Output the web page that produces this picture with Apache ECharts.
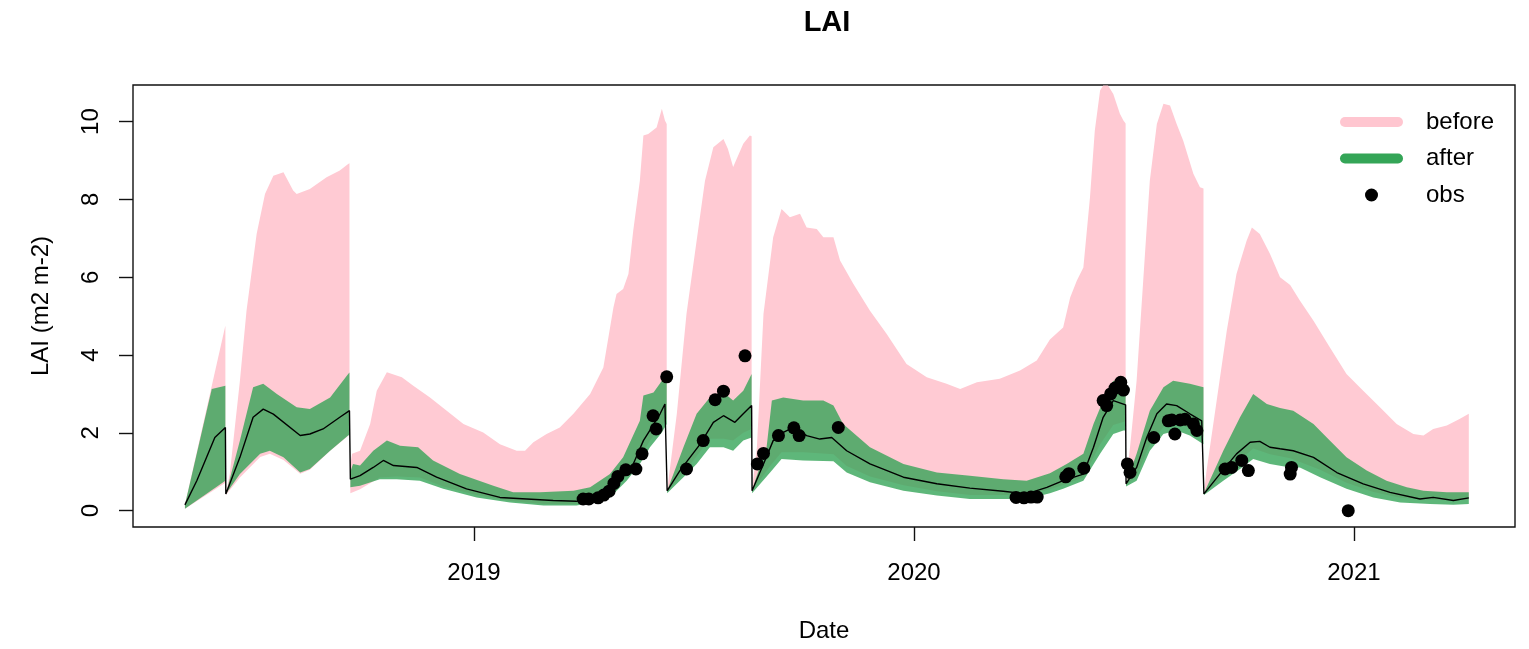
<!DOCTYPE html>
<html>
<head>
<meta charset="utf-8">
<script src="https://cdn.jsdelivr.net/npm/echarts@6/dist/echarts.min.js"></script>
<style>
html,body{margin:0;padding:0;background:#fff;}
#chart{width:1529px;height:649px;}
</style>
</head>
<body>
<div id="chart"></div>
<script>
// Dates are decimal years.
const yearTicks = [2019, 2020, 2021];
const laiTicks = [0, 2, 4, 6, 8, 10];
// start of each model run segment (last value closes the final segment)
const segBreaks = [2018.343, 2018.436, 2018.719, 2019.439, 2019.632, 2020.482, 2020.659, 2021.27];

const beforeUpper = [
[2018.343,0.15],[2018.435,4.76],
[2018.436,0.43],[2018.445,0.95],[2018.468,3.34],[2018.483,5.14],[2018.506,7.11],[2018.525,8.14],[2018.544,8.61],[2018.567,8.70],[2018.589,8.23],[2018.597,8.14],[2018.627,8.27],[2018.665,8.57],[2018.695,8.74],[2018.714,8.91],[2018.717,8.93],
[2018.719,1.2],[2018.723,1.46],[2018.741,1.54],[2018.764,2.23],[2018.779,3.08],[2018.802,3.56],[2018.836,3.43],[2018.862,3.21],[2018.900,2.91],[2018.938,2.57],[2018.976,2.23],[2019.021,2.01],[2019.059,1.71],[2019.097,1.54],[2019.116,1.54],[2019.135,1.76],[2019.165,1.97],[2019.195,2.14],[2019.226,2.49],[2019.264,3.00],[2019.294,3.68],[2019.317,5.23],[2019.324,5.57],[2019.339,5.70],[2019.351,6.08],[2019.362,7.20],[2019.377,8.48],[2019.385,9.64],[2019.396,9.68],[2019.415,9.85],[2019.427,10.33],[2019.434,10.03],[2019.438,9.94],
[2019.439,0.51],[2019.461,2.49],[2019.483,5.06],[2019.506,6.94],[2019.525,8.48],[2019.544,9.34],[2019.567,9.55],[2019.577,9.30],[2019.589,8.83],[2019.612,9.43],[2019.627,9.64],[2019.631,9.62],
[2019.632,0.55],[2019.643,1.63],[2019.658,5.06],[2019.680,7.03],[2019.699,7.75],[2019.718,7.54],[2019.741,7.63],[2019.756,7.28],[2019.779,7.24],[2019.794,7.03],[2019.817,7.03],[2019.832,6.43],[2019.862,5.83],[2019.900,5.14],[2019.938,4.54],[2019.983,3.77],[2020.029,3.43],[2020.074,3.26],[2020.105,3.13],[2020.143,3.30],[2020.195,3.39],[2020.241,3.60],[2020.279,3.86],[2020.309,4.40],[2020.339,4.71],[2020.355,5.48],[2020.370,5.91],[2020.385,6.25],[2020.400,8.05],[2020.411,9.77],[2020.423,10.80],[2020.430,10.93],[2020.441,10.93],[2020.453,10.71],[2020.468,10.20],[2020.476,10.03],[2020.481,9.95],
[2020.482,0.70],[2020.491,1.63],[2020.506,3.34],[2020.521,5.91],[2020.536,8.48],[2020.552,9.94],[2020.567,10.46],[2020.582,10.41],[2020.597,9.94],[2020.612,9.51],[2020.635,8.66],[2020.650,8.31],[2020.658,8.28],
[2020.659,0.45],[2020.665,1.03],[2020.688,2.83],[2020.711,4.63],[2020.733,6.08],[2020.756,6.94],[2020.768,7.28],[2020.786,7.11],[2020.809,6.60],[2020.832,6.00],[2020.855,5.80],[2020.877,5.40],[2020.908,4.88],[2020.945,4.20],[2020.983,3.51],[2021.021,3.08],[2021.059,2.66],[2021.097,2.23],[2021.135,1.97],[2021.158,1.93],[2021.180,2.10],[2021.211,2.19],[2021.241,2.36],[2021.261,2.49]
];

const beforeLower = [
[2018.343,0.05],[2018.435,0.72],
[2018.436,0.40],[2018.468,0.85],[2018.514,1.38],[2018.536,1.46],[2018.567,1.30],[2018.605,0.95],[2018.627,1.05],[2018.673,1.54],[2018.717,1.95],
[2018.719,0.45],[2018.741,0.55],[2018.786,0.85],[2018.824,0.88],[2018.877,0.85],[2018.930,0.62],[2019.006,0.40],[2019.082,0.25],[2019.158,0.17],[2019.233,0.17],[2019.264,0.25],[2019.309,0.45],[2019.347,0.90],[2019.377,1.35],[2019.400,1.80],[2019.438,2.35],
[2019.439,0.50],[2019.476,0.95],[2019.506,1.40],[2019.536,1.85],[2019.567,1.85],[2019.589,1.80],[2019.612,2.00],[2019.631,2.10],
[2019.632,0.50],[2019.673,1.15],[2019.699,1.50],[2019.748,1.50],[2019.817,1.45],[2019.847,1.15],[2019.900,0.88],[2019.976,0.65],[2020.052,0.50],[2020.127,0.40],[2020.256,0.40],[2020.309,0.55],[2020.339,0.66],[2020.385,0.85],[2020.423,1.70],[2020.453,2.20],[2020.481,2.30],
[2020.482,0.65],[2020.506,0.90],[2020.536,1.70],[2020.567,2.15],[2020.597,2.25],[2020.627,2.12],[2020.658,1.90],
[2020.659,0.42],[2020.703,0.90],[2020.741,1.30],[2020.771,1.60],[2020.809,1.45],[2020.855,1.35],[2020.923,1.05],[2020.983,0.72],[2021.044,0.48],[2021.105,0.33],[2021.173,0.28],[2021.261,0.28]
];

const afterUpper = [
[2018.343,0.15],[2018.404,3.13],[2018.435,3.21],
[2018.436,0.43],[2018.468,1.80],[2018.498,3.17],[2018.521,3.26],[2018.552,3.00],[2018.597,2.66],[2018.627,2.61],[2018.673,2.91],[2018.714,3.51],[2018.717,3.55],
[2018.719,1.00],[2018.725,1.20],[2018.741,1.16],[2018.771,1.54],[2018.802,1.80],[2018.832,1.67],[2018.873,1.63],[2018.907,1.29],[2018.968,0.94],[2019.044,0.64],[2019.089,0.47],[2019.150,0.47],[2019.226,0.51],[2019.264,0.60],[2019.309,0.94],[2019.339,1.37],[2019.377,2.31],[2019.385,2.96],[2019.408,3.04],[2019.438,3.51],
[2019.439,0.51],[2019.476,1.63],[2019.506,2.49],[2019.536,2.91],[2019.567,3.04],[2019.589,2.83],[2019.612,3.08],[2019.631,3.51],
[2019.632,0.51],[2019.639,0.77],[2019.665,1.63],[2019.677,2.83],[2019.703,2.91],[2019.748,2.83],[2019.794,2.83],[2019.817,2.70],[2019.839,2.23],[2019.900,1.63],[2019.976,1.20],[2020.052,0.98],[2020.127,0.90],[2020.203,0.81],[2020.256,0.77],[2020.309,0.96],[2020.347,1.20],[2020.385,1.46],[2020.408,2.23],[2020.430,2.83],[2020.453,3.34],[2020.476,3.26],[2020.481,3.25],
[2020.482,0.70],[2020.506,1.46],[2020.536,2.57],[2020.567,3.17],[2020.589,3.34],[2020.627,3.26],[2020.658,3.17],
[2020.659,0.45],[2020.703,1.54],[2020.741,2.40],[2020.771,3.00],[2020.802,2.74],[2020.832,2.64],[2020.862,2.57],[2020.908,2.23],[2020.945,1.80],[2020.983,1.37],[2021.029,1.03],[2021.074,0.77],[2021.120,0.60],[2021.158,0.51],[2021.211,0.47],[2021.261,0.47]
];

const afterLower = [
[2018.343,0.05],[2018.435,0.77],
[2018.436,0.43],[2018.468,0.94],[2018.514,1.46],[2018.536,1.54],[2018.567,1.37],[2018.605,0.98],[2018.627,1.07],[2018.673,1.54],[2018.714,1.93],[2018.717,1.95],
[2018.719,0.60],[2018.741,0.64],[2018.786,0.81],[2018.824,0.81],[2018.877,0.77],[2018.930,0.56],[2019.006,0.34],[2019.082,0.21],[2019.158,0.13],[2019.233,0.13],[2019.264,0.20],[2019.309,0.34],[2019.347,0.77],[2019.377,1.20],[2019.400,1.63],[2019.427,2.01],[2019.438,2.23],
[2019.439,0.45],[2019.476,0.86],[2019.506,1.20],[2019.536,1.63],[2019.567,1.63],[2019.589,1.54],[2019.612,1.80],[2019.631,1.88],
[2019.632,0.45],[2019.673,0.98],[2019.699,1.33],[2019.748,1.29],[2019.817,1.27],[2019.847,0.98],[2019.900,0.73],[2019.976,0.51],[2020.052,0.39],[2020.127,0.30],[2020.256,0.30],[2020.309,0.45],[2020.339,0.56],[2020.385,0.77],[2020.423,1.46],[2020.453,1.97],[2020.476,2.06],[2020.481,2.06],
[2020.482,0.62],[2020.506,0.77],[2020.536,1.54],[2020.567,1.97],[2020.597,2.06],[2020.627,1.93],[2020.658,1.71],
[2020.659,0.40],[2020.703,0.77],[2020.741,1.07],[2020.771,1.33],[2020.809,1.20],[2020.855,1.11],[2020.877,1.11],[2020.923,0.86],[2020.983,0.56],[2021.044,0.34],[2021.105,0.21],[2021.173,0.17],[2021.226,0.15],[2021.261,0.17]
];

const afterMedian = [
[2018.343,0.15],[2018.370,0.77],[2018.411,1.88],[2018.435,2.14],
[2018.436,0.43],[2018.468,1.37],[2018.498,2.40],[2018.521,2.61],[2018.544,2.48],[2018.605,1.93],[2018.627,1.97],[2018.657,2.10],[2018.695,2.40],[2018.717,2.57],
[2018.719,0.81],[2018.741,0.90],[2018.771,1.11],[2018.794,1.29],[2018.817,1.16],[2018.870,1.11],[2018.915,0.86],[2018.983,0.56],[2019.059,0.34],[2019.120,0.30],[2019.180,0.26],[2019.233,0.24],[2019.264,0.30],[2019.294,0.43],[2019.324,0.77],[2019.362,1.20],[2019.385,1.80],[2019.404,2.14],[2019.423,2.49],[2019.434,2.74],[2019.438,2.73],
[2019.439,0.51],[2019.468,1.03],[2019.491,1.37],[2019.514,1.71],[2019.544,2.27],[2019.567,2.44],[2019.593,2.27],[2019.612,2.49],[2019.631,2.70],
[2019.632,0.51],[2019.658,1.20],[2019.680,1.80],[2019.703,2.01],[2019.726,2.14],[2019.756,1.93],[2019.786,1.84],[2019.813,1.88],[2019.847,1.54],[2019.900,1.20],[2019.976,0.86],[2020.052,0.69],[2020.127,0.58],[2020.203,0.50],[2020.256,0.43],[2020.302,0.60],[2020.339,0.77],[2020.385,0.94],[2020.408,1.63],[2020.430,2.40],[2020.453,2.83],[2020.476,2.74],[2020.481,2.72],
[2020.482,0.69],[2020.506,1.11],[2020.529,1.88],[2020.552,2.49],[2020.574,2.74],[2020.597,2.70],[2020.627,2.49],[2020.654,2.31],[2020.658,2.30],
[2020.659,0.43],[2020.695,0.94],[2020.733,1.46],[2020.764,1.76],[2020.786,1.78],[2020.809,1.63],[2020.832,1.59],[2020.862,1.54],[2020.908,1.37],[2020.961,0.98],[2021.021,0.69],[2021.082,0.47],[2021.150,0.30],[2021.180,0.34],[2021.226,0.26],[2021.261,0.33]
];

const obsLAI = [
[2019.248,0.30],[2019.261,0.30],[2019.282,0.33],[2019.295,0.40],[2019.307,0.50],[2019.318,0.70],[2019.327,0.88],[2019.345,1.05],[2019.368,1.07],[2019.382,1.46],[2019.407,2.44],[2019.414,2.10],[2019.438,3.44],
[2019.483,1.07],[2019.521,1.80],[2019.548,2.85],[2019.567,3.07],[2019.616,3.98],
[2019.644,1.20],[2019.658,1.47],[2019.692,1.93],[2019.727,2.13],[2019.739,1.93],[2019.828,2.14],
[2020.232,0.34],[2020.250,0.33],[2020.266,0.35],[2020.280,0.35],
[2020.345,0.87],[2020.352,0.95],[2020.386,1.09],[2020.430,2.83],[2020.438,2.70],[2020.447,3.00],[2020.457,3.15],[2020.470,3.30],[2020.476,3.10],[2020.485,1.20],[2020.491,0.98],
[2020.545,1.88],[2020.578,2.31],[2020.586,2.33],[2020.593,1.97],[2020.605,2.33],[2020.616,2.35],[2020.635,2.23],[2020.643,2.06],
[2020.707,1.07],[2020.722,1.11],[2020.745,1.29],[2020.760,1.03],[2020.855,0.94],[2020.858,1.11],[2020.987,0.00]
];

const FONT = "'Liberation Sans', Arial, Helvetica, sans-serif";
const capsule = 'path://M5,0 L58,0 A5,5 0 0 1 58,10 L5,10 A5,5 0 0 1 5,0 Z';

function bandSeries(name, upper, lower, fill, legendColor) {
  return {
    name: name,
    type: 'custom',
    clip: true,
    silent: true,
    itemStyle: { color: legendColor },
    encode: { x: 0, y: 1 },
    data: segBreaks.slice(0, -1).map((b, i) => [b, 0, i]),
    renderItem: function (params, api) {
      const i = api.value(2);
      const a = segBreaks[i], b = segBreaks[i + 1];
      const inSeg = p => p[0] >= a && p[0] < b;
      const up = upper.filter(inSeg).map(p => api.coord(p));
      const lo = lower.filter(inSeg).map(p => api.coord(p)).reverse();
      return { type: 'polygon', shape: { points: up.concat(lo) }, style: { fill: fill } };
    }
  };
}

const chart = echarts.init(document.getElementById('chart'), null, { renderer: 'canvas' });
chart.setOption({
  animation: false,
  backgroundColor: '#fff',
  title: {
    text: 'LAI',
    left: 827, top: 8, textAlign: 'center', padding: 0,
    textStyle: { fontFamily: FONT, fontSize: 29, fontWeight: 'bold', color: '#000' }
  },
  legend: {
    orient: 'vertical',
    left: 1340, top: 110,
    itemWidth: 63, itemHeight: 13, itemGap: 12.5,
    padding: 0,
    selectedMode: false,
    textStyle: { fontFamily: FONT, fontSize: 24, color: '#000', lineHeight: 24, padding: [0, 0, 0, 18] },
    data: [
      { name: 'before', icon: capsule },
      { name: 'after', icon: capsule },
      { name: 'obs', icon: 'circle' }
    ]
  },
  grid: {
    left: 133, right: 14, top: 85, bottom: 122,
    containLabel: false, outerBoundsMode: 'none',
    show: true, borderColor: '#111', borderWidth: 1.4, backgroundColor: 'transparent'
  },
  xAxis: {
    type: 'value',
    min: 2018.225, max: 2021.366,
    name: 'Date', nameLocation: 'middle', nameGap: 92, nameMoveOverlap: false,
    nameTextStyle: { fontFamily: FONT, fontSize: 24, color: '#000' },
    axisLine: { show: false, onZero: false },
    axisTick: { show: true, inside: false, customValues: yearTicks, length: 14, lineStyle: { color: '#111', width: 1.4 } },
    axisLabel: { customValues: yearTicks, margin: 34, fontFamily: FONT, fontSize: 24, color: '#000', formatter: v => String(Math.round(v)) },
    splitLine: { show: false }
  },
  yAxis: {
    type: 'value',
    min: -0.42, max: 10.94,
    name: 'LAI (m2 m-2)', nameLocation: 'middle', nameGap: 80, nameRotate: 90, nameMoveOverlap: false,
    nameTextStyle: { fontFamily: FONT, fontSize: 24, color: '#000' },
    axisLine: { show: false, onZero: false },
    axisTick: { show: true, inside: false, customValues: laiTicks, length: 14, lineStyle: { color: '#111', width: 1.4 } },
    axisLabel: { customValues: laiTicks, rotate: 90, margin: 30, fontFamily: FONT, fontSize: 24, color: '#000' },
    splitLine: { show: false }
  },
  series: [
    bandSeries('before', beforeUpper, beforeLower, '#FFCAD3', '#FFC6D0'),
    bandSeries('after', afterUpper, afterLower, 'rgba(49,163,84,0.78)', '#34A557'),
    {
      name: 'median', type: 'line', data: afterMedian, showSymbol: false, symbol: 'none',
      lineStyle: { color: '#000', width: 1.4 }, itemStyle: { color: '#000' }, silent: true, clip: true
    },
    {
      name: 'obs', type: 'scatter', data: obsLAI, symbol: 'circle', symbolSize: 13,
      itemStyle: { color: '#000', opacity: 1 }, silent: true
    }
  ]
});
</script>
</body>
</html>
